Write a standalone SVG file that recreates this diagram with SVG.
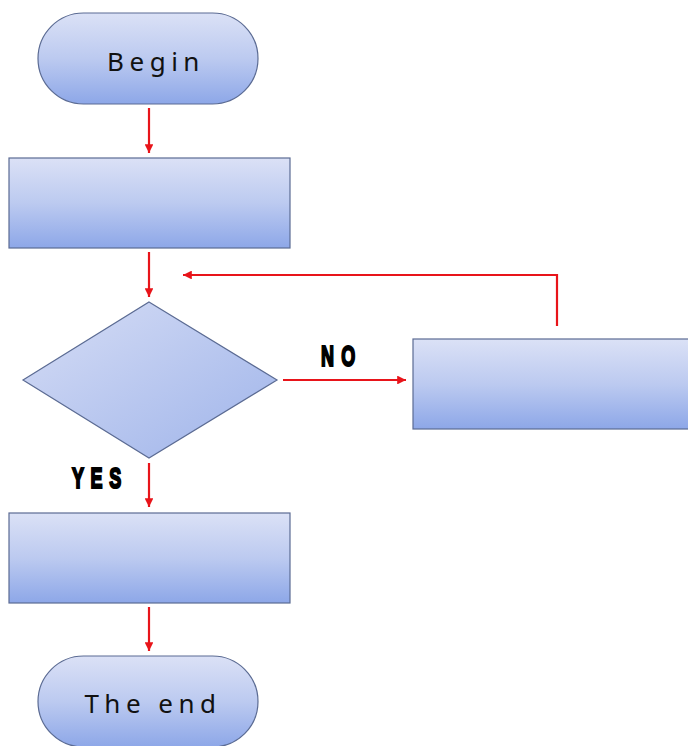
<svg xmlns="http://www.w3.org/2000/svg" width="688" height="746" viewBox="0 0 688 746">
<defs>
<linearGradient id="gv" x1="0" y1="0" x2="0" y2="1">
<stop offset="0" stop-color="#dbe1f6"/>
<stop offset="0.5" stop-color="#bccaf0"/>
<stop offset="1" stop-color="#8da7e8"/>
</linearGradient>
<linearGradient id="gd" x1="0" y1="0" x2="1" y2="1">
<stop offset="0" stop-color="#d6ddf5"/>
<stop offset="1" stop-color="#9fb4ea"/>
</linearGradient>
<marker id="ah" viewBox="0 0 10 10" refX="10" refY="5" markerWidth="4" markerHeight="4" markerUnits="strokeWidth" orient="auto">
<path d="M0,0 L10,5 L0,10 z" fill="#e8141a"/>
</marker>
</defs>
<style>
.shape{fill:url(#gv);stroke:#5b6b93;stroke-width:1.2}
.dia{fill:url(#gd);stroke:#5b6b93;stroke-width:1.2}
.conn{fill:none;stroke:#e8141a;stroke-width:2.2;marker-end:url(#ah)}
.lbl{font-family:"Noto Sans","DejaVu Sans",sans-serif;font-size:26px;letter-spacing:5.5px;fill:#111;text-anchor:middle}
.yn{font-family:"Liberation Sans",Arial,sans-serif;font-weight:bold;font-size:30px;letter-spacing:12px;fill:#000;stroke:#000;stroke-width:2.2px}
</style>
<g id="connectors">
<line class="conn" x1="149" y1="108" x2="149" y2="153"/>
<line class="conn" x1="149" y1="252" x2="149" y2="297"/>
<polyline class="conn" points="557,326 557,275 183,275"/>
<line class="conn" x1="283" y1="380" x2="406" y2="380"/>
<line class="conn" x1="149" y1="463" x2="149" y2="507"/>
<line class="conn" x1="149" y1="607" x2="149" y2="651"/>
</g>
<g id="begin">
<rect class="shape" x="38" y="13" width="220" height="91" rx="45.5" ry="45.5"/>
<text class="lbl" x="156" y="71">Begin</text>
</g>
<g id="step1">
<rect class="shape" x="9" y="158" width="281" height="90"/>
</g>
<g id="decision">
<polygon class="dia" points="149,302 277,380 149,458 23,380"/>
</g>
<g id="label-no">
<text class="yn" transform="translate(321,365.5) scale(0.6,1)">NO</text>
</g>
<g id="step-no">
<rect class="shape" x="413" y="339" width="280" height="90"/>
</g>
<g id="label-yes">
<text class="yn" transform="translate(72,487.5) scale(0.6,1)" style="letter-spacing:11px">YES</text>
</g>
<g id="step2">
<rect class="shape" x="9" y="513" width="281" height="90"/>
</g>
<g id="end">
<rect class="shape" x="38" y="656" width="220" height="91" rx="45.5" ry="45.5"/>
<text class="lbl" x="153" y="713">The end</text>
</g>
</svg>
